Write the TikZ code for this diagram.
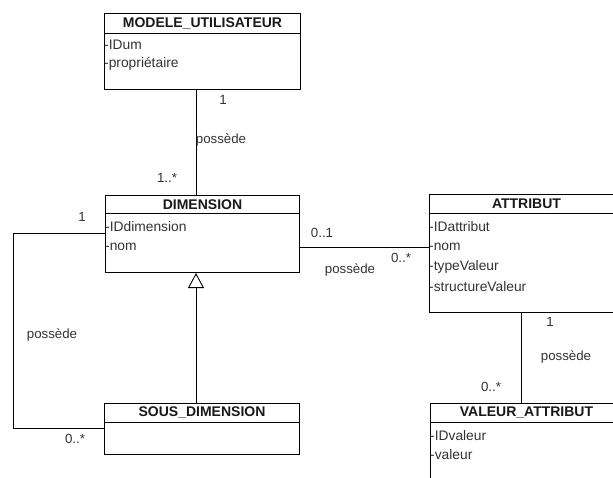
\documentclass[tikz,border=0pt]{standalone}
\usepackage{fontspec}
\setmainfont{Liberation Sans}
\usetikzlibrary{arrows.meta}
\begin{document}
\begin{tikzpicture}[x=1pt,y=-1pt,
  box/.style={draw, line width=1pt, inner sep=0pt, anchor=north west},
  ttl/.style={font=\fontsize{14}{16}\selectfont\bfseries, text=black!90, inner sep=0pt},
  attr/.style={font=\fontsize{13.8}{15}\selectfont, text=black!80, anchor=west, inner sep=0pt},
  lbl/.style={font=\fontsize{13.3}{15}\selectfont, text=black!80, inner sep=0pt},
  conn/.style={line width=0.9pt}]
\useasboundingbox (0,0) rectangle (613,477);
\clip (0,0) rectangle (613,477);
\fill[white] (0,0) rectangle (613,477);

% MODELE_UTILISATEUR
\node[box, minimum width=196pt, minimum height=76pt] (mu) at (104,13) {};
\draw[line width=1pt] ([yshift=-20pt]mu.north west) -- ([yshift=-20pt]mu.north east);
\node[ttl] (mut) at ([yshift=-10pt]mu.north) {MODELE\_UTILISATEUR};
\node[attr] (mua1) at ([yshift=-32pt]mu.north west) {-IDum};
\node[attr] (mua2) at ([yshift=-51pt]mu.north west) {-propriétaire};

% DIMENSION
\node[box, minimum width=194pt, minimum height=77pt] (dim) at (105,195) {};
\draw[line width=1pt] ([yshift=-18.5pt]dim.north west) -- ([yshift=-18.5pt]dim.north east);
\node[ttl] (dimt) at ([yshift=-9.5pt]dim.north) {DIMENSION};
\node[attr] (dima1) at ([yshift=-32pt]dim.north west) {-IDdimension};
\node[attr] (dima2) at ([yshift=-52pt]dim.north west) {-nom};

% SOUS_DIMENSION
\node[box, minimum width=195pt, minimum height=51pt] (sd) at (104,403) {};
\draw[line width=1pt] ([yshift=-19pt]sd.north west) -- ([yshift=-19pt]sd.north east);
\node[ttl] (sdt) at ([yshift=-9.5pt]sd.north) {SOUS\_DIMENSION};

% ATTRIBUT
\node[box, minimum width=194pt, minimum height=118pt] (att) at (429,194) {};
\draw[line width=1pt] ([yshift=-19.5pt]att.north west) -- ([yshift=-19.5pt]att.north east);
\node[ttl] (attt) at ([yshift=-10pt]att.north) {ATTRIBUT};
\node[attr] (atta1) at ([yshift=-33pt]att.north west) {-IDattribut};
\node[attr] (atta2) at ([yshift=-53pt]att.north west) {-nom};
\node[attr] (atta3) at ([yshift=-73pt]att.north west) {-typeValeur};
\node[attr] (atta4) at ([yshift=-93pt]att.north west) {-structureValeur};

% VALEUR_ATTRIBUT
\node[box, minimum width=192pt, minimum height=100pt] (va) at (430,403) {};
\draw[line width=1pt] ([yshift=-19.5pt]va.north west) -- ([yshift=-19.5pt]va.north east);
\node[ttl] (vat) at ([yshift=-10pt]va.north) {VALEUR\_ATTRIBUT};
\node[attr] (vaa1) at ([yshift=-33pt]va.north west) {-IDvaleur};
\node[attr] (vaa2) at ([yshift=-52pt]va.north west) {-valeur};

% connectors
\coordinate (x1) at (196.7,0);
\draw[conn] (mu.south -| x1) -- (dim.north -| x1);
\node[lbl] (l1a) at (223,100) {1};
\node[lbl] (l1b) at (221,140) {possède};
\node[lbl] (l1c) at (167,178) {1..*};

\coordinate (c1) at (13,233);
\coordinate (c2) at (13,428);
\draw[conn] (dim.west |- c1) -- (c1) -- (c2) -- (sd.west |- c2);
\node[lbl] (l2a) at (82,217) {1};
\node[lbl] (l2b) at (52,335) {possède};
\node[lbl] (l2c) at (75,439) {0..*};

\coordinate (x2) at (196,0);
\draw[conn, -{Triangle[open, length=15pt, width=16pt, line width=0.9pt]}] (sd.north -| x2) -- (dim.south -| x2);

\coordinate (y3) at (0,247);
\draw[conn] (dim.east |- y3) -- (att.west |- y3);
\node[lbl] (l3a) at (322,233) {0..1};
\node[lbl] (l3b) at (401,258) {0..*};
\node[lbl] (l3c) at (350,270) {possède};

\coordinate (x4) at (521,0);
\draw[conn] (att.south -| x4) -- (va.north -| x4);
\node[lbl] (l4a) at (550,322) {1};
\node[lbl] (l4b) at (566,357) {possède};
\node[lbl] (l4c) at (491,387) {0..*};
\end{tikzpicture}
\end{document}
